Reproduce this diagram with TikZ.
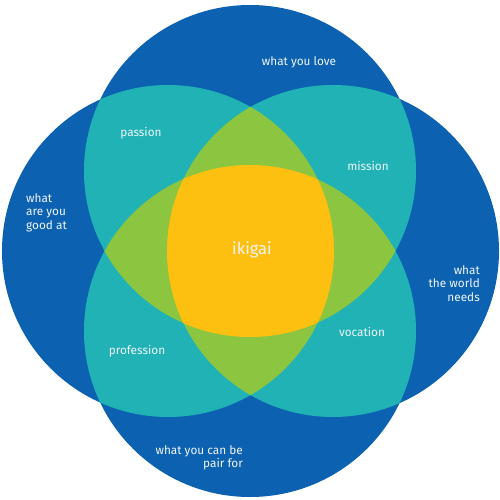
\documentclass[tikz,border=0pt]{standalone}
\usepackage{fontspec}
\setmainfont{Fira Sans}
\usetikzlibrary{positioning}
\definecolor{ikiblue}{HTML}{0C62B0}
\definecolor{ikiteal}{HTML}{20B2B4}
\definecolor{ikigreen}{HTML}{8CC540}
\definecolor{ikiyellow}{HTML}{FEC010}
\definecolor{ikitext}{HTML}{F0F4F8}
\tikzset{
  areatext/.style={text=ikitext,font=\fontsize{11.8}{13.6}\selectfont,inner sep=0pt},
  leftblock/.style={areatext,align=left,anchor=north west},
  rightblock/.style={areatext,align=right,anchor=north east}
}
\begin{document}
\begin{tikzpicture}[x=1pt,y=-1pt]
  \useasboundingbox (0,0) rectangle (500,500);
  \def\rad{166pt}
  \coordinate (cT) at (250,171);
  \coordinate (cL) at (168,251);
  \coordinate (cR) at (333,251);
  \coordinate (cB) at (250,331);
  % one circle per question
  \foreach \c in {cT,cL,cR,cB}
    \fill[ikiblue] (\c) circle[radius=\rad];
  % two circles overlap
  \foreach \a/\b in {cT/cL,cT/cR,cB/cL,cB/cR,cT/cB,cL/cR} {
    \begin{scope}
      \clip (\a) circle[radius=\rad];
      \fill[ikiteal] (\b) circle[radius=\rad];
    \end{scope}
  }
  % three circles overlap
  \foreach \a/\b/\c in {cT/cL/cR,cT/cL/cB,cT/cR/cB,cL/cR/cB} {
    \begin{scope}
      \clip (\a) circle[radius=\rad];
      \clip (\b) circle[radius=\rad];
      \fill[ikigreen] (\c) circle[radius=\rad];
    \end{scope}
  }
  % centre
  \begin{scope}
    \clip (cT) circle[radius=\rad];
    \clip (cL) circle[radius=\rad];
    \clip (cR) circle[radius=\rad];
    \fill[ikiyellow] (cB) circle[radius=\rad];
  \end{scope}

  \node[areatext] (love) at (299,62) {what you love};
  \node[areatext] (passion) at (141,133) {passion};
  \node[areatext] (mission) at (368,166) {mission};
  \node[leftblock] (good) at (26,193) {what\\are you\\good at};
  \node[areatext,font=\fontsize{16.5}{19}\selectfont] (ikigai) at (252,250) {ikigai};
  \node[rightblock] (world) at (480,265) {what\\the world\\needs};
  \node[areatext] (profession) at (137,351) {profession};
  \node[areatext] (vocation) at (362,332) {vocation};
  \node[rightblock] (paid) at (243,445) {what you can be\\pair for};
\end{tikzpicture}
\end{document}
